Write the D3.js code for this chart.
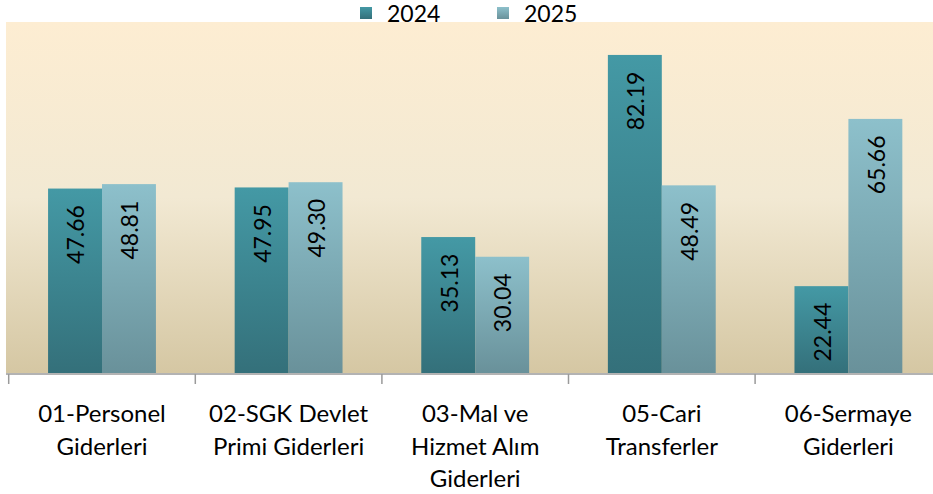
<!DOCTYPE html>
<html>
<head>
<meta charset="utf-8">
<script src="https://cdn.jsdelivr.net/npm/d3@7"></script>
<style>
  body { margin: 0; background: #fff; }
  svg { display: block; }
  .cat-label { font-family: Lato, "Open Sans", sans-serif; font-size: 24px; fill: #000; }
  .val-label { font-family: Lato, "Open Sans", sans-serif; font-size: 23px; fill: #000; }
  .legend-text { font-family: Lato, "Open Sans", sans-serif; font-size: 23px; fill: #000; }
</style>
</head>
<body>
<svg id="chart" width="933" height="494"></svg>
<script>
// 데이터
const categories = [
  "01-Personel\nGiderleri",
  "02-SGK Devlet\nPrimi Giderleri",
  "03-Mal ve\nHizmet Alım\nGiderleri",
  "05-Cari\nTransferler",
  "06-Sermaye\nGiderleri"
];
const seriesNames = ["2024", "2025"];
const values2024 = [47.66, 47.95, 35.13, 82.19, 22.44];
const values2025 = [48.81, 49.30, 30.04, 48.49, 65.66];

const W = 933, H = 494;
const plot = { left: 8.7, right: 941.7, top: 22, bottom: 373 };

const svg = d3.select("#chart");
const defs = svg.append("defs");

// 배경 그라디언트
const bg = defs.append("linearGradient").attr("id", "bg-grad")
  .attr("x1", 0).attr("y1", 0).attr("x2", 0).attr("y2", 1);
bg.append("stop").attr("offset", "0%").attr("stop-color", "#fdedd2");
bg.append("stop").attr("offset", "50%").attr("stop-color", "#f2e9d3");
bg.append("stop").attr("offset", "100%").attr("stop-color", "#d5c7a3");

const barColors = {
  "2024": ["#4499a5", "#34707a"],
  "2025": ["#8dc0cb", "#69919a"]
};
seriesNames.forEach(s => {
  const g = defs.append("linearGradient").attr("id", "grad-" + s)
    .attr("x1", 0).attr("y1", 0).attr("x2", 0).attr("y2", 1);
  g.append("stop").attr("offset", "0%").attr("stop-color", barColors[s][0]);
  g.append("stop").attr("offset", "100%").attr("stop-color", barColors[s][1]);
});

svg.append("rect")
  .attr("x", 6).attr("y", plot.top)
  .attr("width", W - 6).attr("height", plot.bottom - plot.top)
  .attr("fill", "url(#bg-grad)");

const x0 = d3.scaleBand().domain(d3.range(categories.length))
  .range([plot.left, plot.right]).paddingInner(0).paddingOuter(0);
const x1 = d3.scaleBand().domain(seriesNames)
  .range([0, x0.bandwidth()]).paddingInner(0).paddingOuter(0.73);
const y = d3.scaleLinear().domain([0, 90.7]).range([plot.bottom, plot.top]);

const rows = categories.map((c, i) => ({
  i, items: [
    { s: "2024", v: values2024[i] },
    { s: "2025", v: values2025[i] }
  ]
}));

const groups = svg.append("g").selectAll("g").data(rows).join("g")
  .attr("transform", d => `translate(${x0(d.i)},0)`);

groups.selectAll("rect").data(d => d.items).join("rect")
  .attr("x", d => x1(d.s))
  .attr("y", d => y(d.v))
  .attr("width", x1.bandwidth())
  .attr("height", d => y(0) - y(d.v))
  .attr("fill", d => `url(#grad-${d.s})`);

// 값 라벨 (세로)
groups.selectAll("text.val-label").data(d => d.items).join("text")
  .attr("class", "val-label")
  .attr("transform", d => `translate(${x1(d.s) + x1.bandwidth() / 2 + 1},${y(d.v) + 46}) rotate(-90)`)
  .attr("text-anchor", "middle")
  .attr("dy", "0.36em")
  .text(d => d.v.toFixed(2));

// 축
const axisY = plot.bottom + 1;
svg.append("line")
  .attr("x1", 6).attr("x2", W).attr("y1", axisY).attr("y2", axisY)
  .attr("stroke", "#9a9a9a").attr("stroke-width", 1.5);
svg.append("g").selectAll("line").data(d3.range(categories.length + 1)).join("line")
  .attr("x1", d => plot.left + d * x0.step()).attr("x2", d => plot.left + d * x0.step())
  .attr("y1", axisY).attr("y2", axisY + 10)
  .attr("stroke", "#9a9a9a").attr("stroke-width", 1.5);

// 카테고리 라벨
svg.append("g").selectAll("text").data(categories).join("text")
  .attr("class", "cat-label")
  .attr("text-anchor", "middle")
  .attr("x", (d, i) => x0(i) + x0.bandwidth() / 2)
  .attr("y", 422)
  .each(function(d) {
    const t = d3.select(this);
    d.split("\n").forEach((line, k) => {
      t.append("tspan").attr("x", t.attr("x")).attr("dy", k === 0 ? 0 : 32.5).text(line);
    });
  });

// 범례
const legend = svg.append("g");
const legendX = [360, 497];
seriesNames.forEach((s, k) => {
  legend.append("rect").attr("x", legendX[k]).attr("y", 7)
    .attr("width", 12).attr("height", 12).attr("fill", `url(#grad-${s})`);
  legend.append("text").attr("class", "legend-text")
    .attr("x", legendX[k] + 27).attr("y", 22).text(s);
});
</script>
</body>
</html>
